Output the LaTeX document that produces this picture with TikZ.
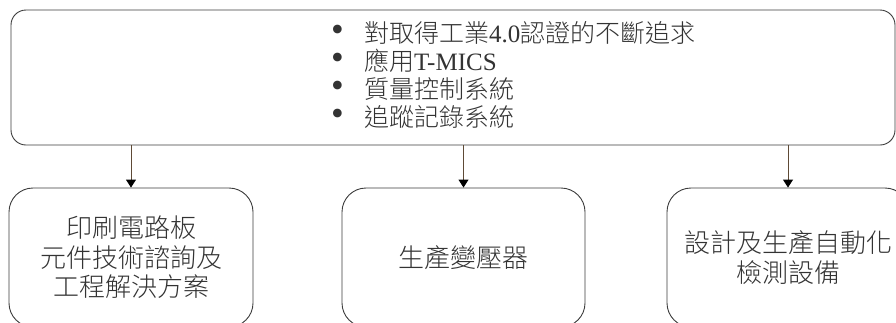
\documentclass[tikz,border=0pt]{standalone}
\usepackage{fontspec}
\usepackage{graphicx}
\setmainfont{Liberation Serif}
\newfontfamily\cjk{Noto Sans CJK TC Light}
\usetikzlibrary{arrows.meta}
\definecolor{txt}{HTML}{333333}
\definecolor{edge}{HTML}{3C3C3C}
\definecolor{conn}{HTML}{5E4A36}
\newcommand{\bul}{\makebox[34pt][l]{\hspace{1pt}\raisebox{1pt}{\scalebox{1.45}{\textbullet}}}}
\tikzset{
  topbox/.style={draw=edge, line width=0.9pt, rounded corners=15pt, inner sep=0pt},
  subbox/.style={draw=edge, line width=0.9pt, rounded corners=24pt, inner sep=0pt,
    minimum height=139pt, align=center, text=txt,
    font=\cjk\fontsize{26}{29.5}\selectfont},
  conn/.style={draw=conn, line width=0.9pt,
    -{Triangle[length=8pt,width=10pt,color=black,fill=black]}},
}
\begin{document}
\begin{tikzpicture}[x=1pt,y=-1pt]
\useasboundingbox (0,0) rectangle (896,322);
\node[topbox, minimum width=884pt, minimum height=135pt] (top) at (453,77.5) {};
\node[anchor=north west, inner sep=0pt, text=txt, align=left,
      font=\fontsize{25}{28}\selectfont] (list) at (330,21)
  {\bul{\cjk 對取得工業}4.0{\cjk 認證的不斷追求}\\
   \bul{\cjk 應用}T-MICS\\
   \bul{\cjk 質量控制系統}\\
   \bul{\cjk 追蹤記錄系統}};
\node[subbox, minimum width=244pt] (b1) at (131,257.5)
  {\raisebox{2pt}{\parbox{240pt}{\centering 印刷電路板\\元件技術諮詢及\\工程解決方案}}};
\node[subbox, minimum width=243pt] (b2) at (463.5,257.5) {生產變壓器};
\node[subbox, minimum width=242pt] (b3) at (788,257.5)
  {\raisebox{3pt}{\parbox{240pt}{\centering 設計及生產自動化\\檢測設備}}};
\draw[conn] (b1.north |- top.south) -- (b1.north);
\draw[conn] (b2.north |- top.south) -- (b2.north);
\draw[conn] (b3.north |- top.south) -- (b3.north);
\end{tikzpicture}
\end{document}
